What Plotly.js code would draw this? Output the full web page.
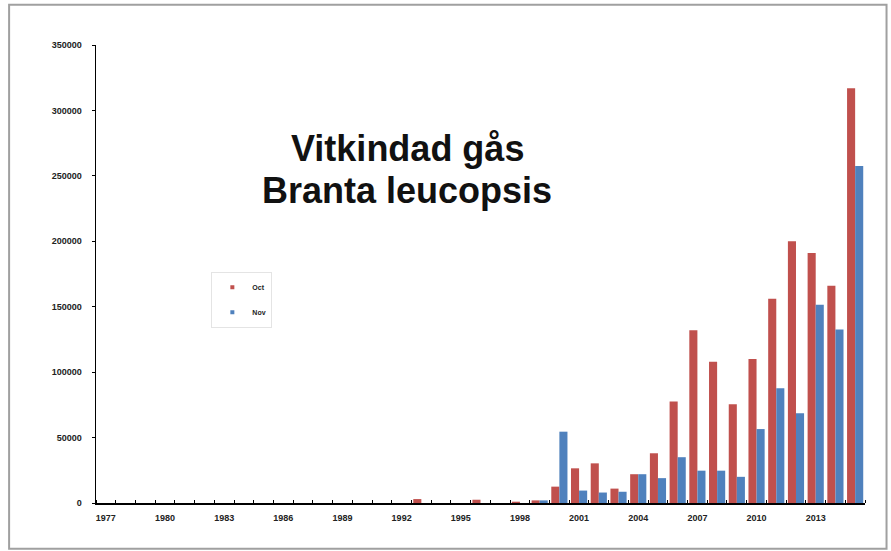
<!DOCTYPE html>
<html>
<head>
<meta charset="utf-8">
<script src="https://cdn.plot.ly/plotly-3.0.1.min.js"></script>
<style>html,body{margin:0;padding:0;background:#fff;}#chart{width:891px;height:551px;}</style>
</head>
<body>
<div id="chart"></div>
<script>
const years = [1977,1978,1979,1980,1981,1982,1983,1984,1985,1986,1987,1988,1989,1990,1991,1992,1993,1994,1995,1996,1997,1998,1999,2000,2001,2002,2003,2004,2005,2006,2007,2008,2009,2010,2011,2012,2013,2014,2015];
const octValues = [0,0,0,0,0,0,0,0,0,0,0,0,0,0,0,0,3000,0,0,2500,0,1000,2000,12500,26500,30300,11000,22000,38000,77500,132000,108000,75500,110000,156000,200000,191000,166000,317000];
const novValues = [0,0,0,0,0,0,0,0,0,0,0,0,0,0,0,0,0,0,0,0,0,0,2000,54500,9500,8000,8600,22000,19000,35000,24700,24700,20000,56500,87600,68500,151500,132500,257500];
const tickYears = [1977,1980,1983,1986,1989,1992,1995,1998,2001,2004,2007,2010,2013];
const yTicks = [0,50000,100000,150000,200000,250000,300000,350000];
const seriesNames = ['Oct','Nov'];
const seriesColors = ['#C0504D','#4F81BD'];
const titleLines = ['Vitkindad gås','Branta leucopsis'];

const fam = 'Liberation Sans, Arial, sans-serif';
const axFont = {family:fam, size:9, color:'#222', weight:'bold'};
const data = [
  {type:'bar', name:seriesNames[0], x:years, y:octValues, marker:{color:seriesColors[0]}, showlegend:false},
  {type:'bar', name:seriesNames[1], x:years, y:novValues, marker:{color:seriesColors[1]}, showlegend:false},
  {type:'scatter', mode:'markers', name:seriesNames[0], legendgroup:'g1', x:[null], y:[null], marker:{color:seriesColors[0], symbol:'square', size:4}},
  {type:'scatter', mode:'markers', name:seriesNames[1], legendgroup:'g2', x:[null], y:[null], marker:{color:seriesColors[1], symbol:'square', size:4}}
];
const layout = {
  width:891, height:551,
  margin:{l:96, r:26, t:45, b:48},
  paper_bgcolor:'#fff', plot_bgcolor:'#fff',
  barmode:'group', bargap:0.18, bargroupgap:0,
  showlegend:true,
  legend:{x:0.15, y:0.505, xanchor:'left', yanchor:'top', bgcolor:'rgba(255,255,255,0)', bordercolor:'#e4e4e4', borderwidth:1,
    font:{family:fam, size:7, color:'#222', weight:'bold'}, itemwidth:30, tracegroupgap:6},
  annotations:[
    {text:'<b>'+titleLines[0]+'</b>', xref:'paper', yref:'paper', x:(407-96)/769, y:(503-148)/458, xanchor:'center', yanchor:'middle', showarrow:false,
      font:{family:fam, size:36, color:'#111'}},
    {text:'<b>'+titleLines[1]+'</b>', xref:'paper', yref:'paper', x:(407-96)/769, y:(503-190)/458, xanchor:'center', yanchor:'middle', showarrow:false,
      font:{family:fam, size:36, color:'#111'}}
  ],
  xaxis:{range:[1976.5,2015.5], tickmode:'array', tickvals:tickYears, ticktext:tickYears.map(String),
    showline:true, linecolor:'#000', linewidth:1.5, showgrid:false, zeroline:false,
    ticks:'', tickfont:axFont, ticklabelstandoff:6,
    minor:{tick0:1976.5, dtick:1, ticks:'inside', ticklen:3, tickcolor:'#000', tickwidth:1, showgrid:false}},
  yaxis:{range:[0,350000], tickmode:'array', tickvals:yTicks, tickformat:'d',
    showline:true, linecolor:'#000', linewidth:1.5, showgrid:false, zeroline:false,
    ticks:'outside', ticklen:3, tickcolor:'#000', tickfont:axFont, ticklabelstandoff:8},
  shapes:[{type:'rect', xref:'paper', yref:'paper', x0:-0.113, x1:1.028, y0:-0.1, y1:1.088,
    line:{color:'#a0a0a0', width:2}, fillcolor:'rgba(0,0,0,0)'}]
};
Plotly.newPlot('chart', data, layout, {displayModeBar:false, staticPlot:true});
</script>
</body>
</html>
